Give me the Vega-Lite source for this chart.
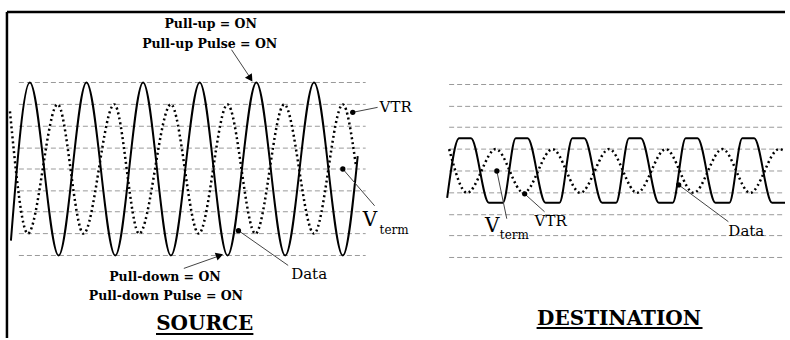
{
  "$schema": "https://vega.github.io/schema/vega-lite/v6.json",
  "width": 790,
  "height": 340,
  "autosize": {"type": "fit", "contains": "padding"},
  "padding": 0,
  "background": "white",
  "config": {"view": {"stroke": null}},
  "datasets": {
    "grid": [
      {"x1": 19, "x2": 368, "y": 83}, {"x1": 19, "x2": 368, "y": 105}, {"x1": 19, "x2": 368, "y": 127},
      {"x1": 19, "x2": 368, "y": 149}, {"x1": 19, "x2": 368, "y": 170}, {"x1": 19, "x2": 368, "y": 192},
      {"x1": 19, "x2": 368, "y": 213}, {"x1": 19, "x2": 368, "y": 235}, {"x1": 19, "x2": 368, "y": 257},
      {"x1": 452, "x2": 790, "y": 85}, {"x1": 452, "x2": 790, "y": 107}, {"x1": 452, "x2": 790, "y": 128},
      {"x1": 452, "x2": 790, "y": 150}, {"x1": 452, "x2": 790, "y": 172}, {"x1": 452, "x2": 790, "y": 194},
      {"x1": 452, "x2": 790, "y": 216}, {"x1": 452, "x2": 790, "y": 237}, {"x1": 452, "x2": 790, "y": 259}
    ],
    "frame": [
      {"x1": 7, "x2": 790, "y1": 12, "y2": 12},
      {"x1": 7, "x2": 7, "y1": 12, "y2": 340}
    ],
    "waves": [
      {"series": "source_data", "x": 11, "y": 242}, {"series": "source_data", "x": 30, "y": 83},
      {"series": "source_data", "x": 59, "y": 257}, {"series": "source_data", "x": 87, "y": 83},
      {"series": "source_data", "x": 116, "y": 257}, {"series": "source_data", "x": 144, "y": 83},
      {"series": "source_data", "x": 172, "y": 257}, {"series": "source_data", "x": 201, "y": 83},
      {"series": "source_data", "x": 229, "y": 257}, {"series": "source_data", "x": 258, "y": 83},
      {"series": "source_data", "x": 287, "y": 257}, {"series": "source_data", "x": 316, "y": 83},
      {"series": "source_data", "x": 345, "y": 257}, {"series": "source_data", "x": 360, "y": 157},
      {"series": "dest_data", "x": 450, "y": 199}, {"series": "dest_data", "x": 462, "y": 139},
      {"series": "dest_data", "x": 474, "y": 139}, {"series": "dest_data", "x": 492, "y": 204},
      {"series": "dest_data", "x": 506, "y": 204}, {"series": "dest_data", "x": 519, "y": 139},
      {"series": "dest_data", "x": 531, "y": 139}, {"series": "dest_data", "x": 549, "y": 204},
      {"series": "dest_data", "x": 563, "y": 204}, {"series": "dest_data", "x": 576, "y": 139},
      {"series": "dest_data", "x": 588, "y": 139}, {"series": "dest_data", "x": 606, "y": 204},
      {"series": "dest_data", "x": 620, "y": 204}, {"series": "dest_data", "x": 633, "y": 139},
      {"series": "dest_data", "x": 645, "y": 139}, {"series": "dest_data", "x": 663, "y": 204},
      {"series": "dest_data", "x": 677, "y": 204}, {"series": "dest_data", "x": 690, "y": 139},
      {"series": "dest_data", "x": 702, "y": 139}, {"series": "dest_data", "x": 720, "y": 204},
      {"series": "dest_data", "x": 734, "y": 204}, {"series": "dest_data", "x": 747, "y": 139},
      {"series": "dest_data", "x": 759, "y": 139}, {"series": "dest_data", "x": 777, "y": 204},
      {"series": "dest_data", "x": 790, "y": 204},
      {"series": "source_vtr", "x": 10, "y": 112}, {"series": "source_vtr", "x": 28, "y": 235},
      {"series": "source_vtr", "x": 58, "y": 105}, {"series": "source_vtr", "x": 84, "y": 235},
      {"series": "source_vtr", "x": 115, "y": 105}, {"series": "source_vtr", "x": 140, "y": 235},
      {"series": "source_vtr", "x": 172, "y": 105}, {"series": "source_vtr", "x": 200, "y": 235},
      {"series": "source_vtr", "x": 229, "y": 105}, {"series": "source_vtr", "x": 257, "y": 235},
      {"series": "source_vtr", "x": 286, "y": 105}, {"series": "source_vtr", "x": 316, "y": 235},
      {"series": "source_vtr", "x": 345, "y": 105}, {"series": "source_vtr", "x": 358, "y": 165},
      {"series": "dest_vtr", "x": 452, "y": 150}, {"series": "dest_vtr", "x": 470, "y": 194},
      {"series": "dest_vtr", "x": 499, "y": 150}, {"series": "dest_vtr", "x": 527, "y": 194},
      {"series": "dest_vtr", "x": 556, "y": 150}, {"series": "dest_vtr", "x": 584, "y": 194},
      {"series": "dest_vtr", "x": 613, "y": 150}, {"series": "dest_vtr", "x": 641, "y": 194},
      {"series": "dest_vtr", "x": 670, "y": 150}, {"series": "dest_vtr", "x": 698, "y": 194},
      {"series": "dest_vtr", "x": 727, "y": 150}, {"series": "dest_vtr", "x": 755, "y": 194},
      {"series": "dest_vtr", "x": 784, "y": 150}, {"series": "dest_vtr", "x": 790, "y": 152}
    ],
    "leaders": [
      {"name": "pullup", "x1": 233, "y1": 50, "x2": 251, "y2": 77},
      {"name": "pulldown", "x1": 185, "y1": 270, "x2": 219, "y2": 258},
      {"name": "src_vtr", "x1": 355, "y1": 113, "x2": 380, "y2": 108},
      {"name": "src_vterm", "x1": 345, "y1": 170, "x2": 377, "y2": 207},
      {"name": "src_data", "x1": 240, "y1": 232, "x2": 290, "y2": 267},
      {"name": "dst_vterm", "x1": 500, "y1": 172, "x2": 510, "y2": 220},
      {"name": "dst_vtr", "x1": 528, "y1": 195, "x2": 548, "y2": 213},
      {"name": "dst_data", "x1": 683, "y1": 186, "x2": 733, "y2": 223}
    ],
    "dots": [
      {"x": 355, "y": 113}, {"x": 345, "y": 170}, {"x": 240, "y": 232},
      {"x": 500, "y": 172}, {"x": 528, "y": 195}, {"x": 683, "y": 186}
    ],
    "heads": [
      {"name": "pullup", "x": 252, "y": 79},
      {"name": "pulldown", "x": 221, "y": 257}
    ],
    "notes": [
      {"text": "Pull-up = ON", "x": 212, "y": 28},
      {"text": "Pull-up Pulse = ON", "x": 211, "y": 48},
      {"text": "Pull-down = ON", "x": 166, "y": 283},
      {"text": "Pull-down Pulse = ON", "x": 167, "y": 302}
    ],
    "labels": [
      {"text": "VTR", "x": 382, "y": 113},
      {"text": "Data", "x": 293, "y": 281},
      {"text": "VTR", "x": 538, "y": 227},
      {"text": "Data", "x": 733, "y": 237}
    ],
    "vs": [
      {"text": "V", "x": 365, "y": 227},
      {"text": "V", "x": 488, "y": 233}
    ],
    "subs": [
      {"text": "term", "x": 382, "y": 235},
      {"text": "term", "x": 503, "y": 240}
    ],
    "titles": [
      {"text": "SOURCE", "x": 206, "y": 332},
      {"text": "DESTINATION", "x": 623, "y": 327}
    ],
    "underlines": [
      {"x1": 157, "x2": 255, "y": 336},
      {"x1": 540, "x2": 707, "y": 330}
    ]
  },
  "layer": [
    {
      "data": {"name": "grid"},
      "mark": {"type": "rule", "color": "#9a9a9a", "strokeWidth": 1, "strokeDash": [5, 3]},
      "encoding": {
        "x": {"field": "x1", "type": "quantitative", "scale": {"domain": [0, 790], "nice": false, "zero": false}, "axis": null},
        "x2": {"field": "x2"},
        "y": {"field": "y", "type": "quantitative", "scale": {"domain": [0, 340], "nice": false, "zero": false, "reverse": true}, "axis": null}
      }
    },
    {
      "data": {"name": "frame"},
      "mark": {"type": "rule", "color": "black", "strokeWidth": 2.5},
      "encoding": {
        "x": {"field": "x1", "type": "quantitative"},
        "x2": {"field": "x2"},
        "y": {"field": "y1", "type": "quantitative"},
        "y2": {"field": "y2"}
      }
    },
    {
      "data": {"name": "waves"},
      "transform": [{"filter": "datum.series == 'source_data' || datum.series == 'dest_data'"}],
      "mark": {"type": "line", "color": "black", "strokeWidth": 2, "interpolate": "monotone"},
      "encoding": {
        "x": {"field": "x", "type": "quantitative"},
        "y": {"field": "y", "type": "quantitative"},
        "detail": {"field": "series"}
      }
    },
    {
      "data": {"name": "waves"},
      "transform": [{"filter": "datum.series == 'source_vtr' || datum.series == 'dest_vtr'"}],
      "mark": {"type": "line", "color": "black", "strokeWidth": 2.5, "strokeDash": [2, 3], "interpolate": "monotone"},
      "encoding": {
        "x": {"field": "x", "type": "quantitative"},
        "y": {"field": "y", "type": "quantitative"},
        "detail": {"field": "series"}
      }
    },
    {
      "data": {"name": "leaders"},
      "mark": {"type": "rule", "color": "#444444", "strokeWidth": 1},
      "encoding": {
        "x": {"field": "x1", "type": "quantitative"},
        "x2": {"field": "x2"},
        "y": {"field": "y1", "type": "quantitative"},
        "y2": {"field": "y2"}
      }
    },
    {
      "data": {"name": "dots"},
      "mark": {"type": "point", "filled": true, "color": "black", "size": 28, "opacity": 1},
      "encoding": {
        "x": {"field": "x", "type": "quantitative"},
        "y": {"field": "y", "type": "quantitative"}
      }
    },
    {
      "data": {"name": "heads"},
      "transform": [{"filter": "datum.name == 'pullup'"}],
      "mark": {"type": "point", "shape": "triangle-up", "filled": true, "color": "black", "size": 70, "opacity": 1, "angle": 146},
      "encoding": {
        "x": {"field": "x", "type": "quantitative"},
        "y": {"field": "y", "type": "quantitative"}
      }
    },
    {
      "data": {"name": "heads"},
      "transform": [{"filter": "datum.name == 'pulldown'"}],
      "mark": {"type": "point", "shape": "triangle-up", "filled": true, "color": "black", "size": 70, "opacity": 1, "angle": 71},
      "encoding": {
        "x": {"field": "x", "type": "quantitative"},
        "y": {"field": "y", "type": "quantitative"}
      }
    },
    {
      "data": {"name": "notes"},
      "mark": {"type": "text", "font": "DejaVu Serif", "fontWeight": "bold", "fontSize": 12.5, "align": "center", "baseline": "alphabetic", "color": "black"},
      "encoding": {
        "x": {"field": "x", "type": "quantitative"},
        "y": {"field": "y", "type": "quantitative"},
        "text": {"field": "text"}
      }
    },
    {
      "data": {"name": "labels"},
      "mark": {"type": "text", "font": "DejaVu Serif", "fontSize": 15, "align": "left", "baseline": "alphabetic", "color": "black"},
      "encoding": {
        "x": {"field": "x", "type": "quantitative"},
        "y": {"field": "y", "type": "quantitative"},
        "text": {"field": "text"}
      }
    },
    {
      "data": {"name": "vs"},
      "mark": {"type": "text", "font": "DejaVu Serif", "fontSize": 20, "align": "left", "baseline": "alphabetic", "color": "black"},
      "encoding": {
        "x": {"field": "x", "type": "quantitative"},
        "y": {"field": "y", "type": "quantitative"},
        "text": {"field": "text"}
      }
    },
    {
      "data": {"name": "subs"},
      "mark": {"type": "text", "font": "DejaVu Serif", "fontSize": 12, "align": "left", "baseline": "alphabetic", "color": "black"},
      "encoding": {
        "x": {"field": "x", "type": "quantitative"},
        "y": {"field": "y", "type": "quantitative"},
        "text": {"field": "text"}
      }
    },
    {
      "data": {"name": "titles"},
      "mark": {"type": "text", "font": "DejaVu Serif", "fontWeight": "bold", "fontSize": 20, "align": "center", "baseline": "alphabetic", "color": "black"},
      "encoding": {
        "x": {"field": "x", "type": "quantitative"},
        "y": {"field": "y", "type": "quantitative"},
        "text": {"field": "text"}
      }
    },
    {
      "data": {"name": "underlines"},
      "mark": {"type": "rule", "color": "black", "strokeWidth": 2},
      "encoding": {
        "x": {"field": "x1", "type": "quantitative"},
        "x2": {"field": "x2"},
        "y": {"field": "y", "type": "quantitative"}
      }
    }
  ]
}
